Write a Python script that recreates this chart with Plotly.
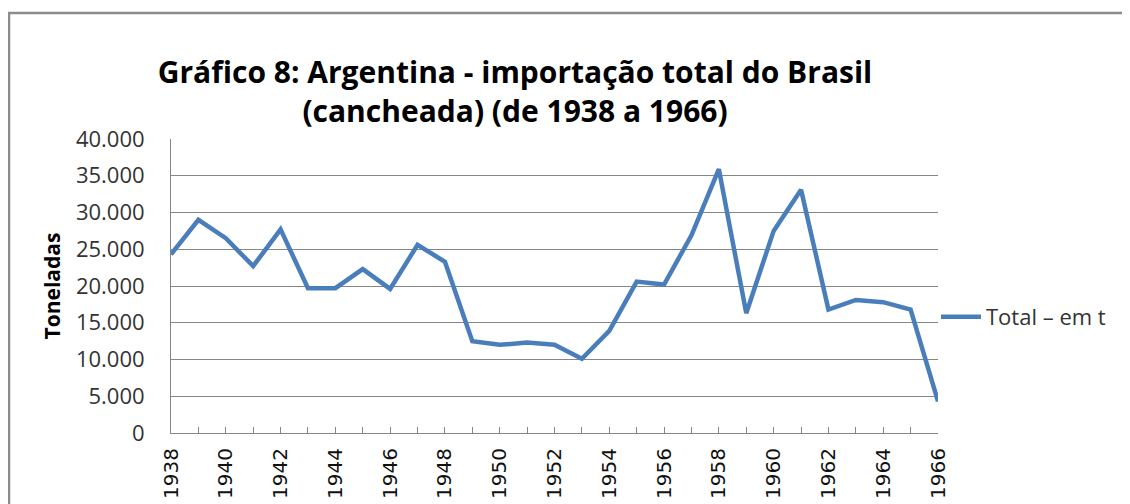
import plotly.graph_objects as go

years = list(range(1938, 1967))
total_t = [24300, 29000, 26500, 22700, 27700, 19700, 19700, 22300, 19600, 25600,
           23300, 12500, 12000, 12300, 12000, 10100, 13900, 20600, 20200, 26900,
           35900, 16300, 27500, 33100, 16800, 18100, 17800, 16800, 4300]
series_name = "Total – em t"
title_text = "Gráfico 8: Argentina - importação total do Brasil<br>(cancheada) (de 1938 a 1966)"
y_title = "Toneladas"

# the page body has an 8 px margin; figure coordinates are page coordinates - 8
OFF = 8
W, H = 1130 - OFF, 504 - OFF
left, right, top, bottom = 171 - OFF, 938 - OFF, 139 - OFF, 433 - OFF
ml, mr, mt, mb = left, W - right, top, H - bottom
pw, ph = right - left, bottom - top

fig = go.Figure()
fig.add_trace(go.Scatter(x=years, y=total_t, mode="lines", name=series_name,
                         line=dict(color="#4A7EBB", width=4.5)))

def px_x(p):
    return (p - OFF - ml) / pw

def px_y(p):
    return (H - mb - (p - OFF)) / ph

fig.add_shape(type="rect", xref="paper", yref="paper",
              x0=px_x(9), x1=px_x(1150), y0=px_y(530), y1=px_y(13),
              line=dict(color="#8C8C8C", width=2.5), fillcolor="rgba(0,0,0,0)", layer="below")

fig.update_layout(
    width=W, height=H,
    margin=dict(l=ml, r=mr, t=mt, b=mb, autoexpand=False),
    paper_bgcolor="white", plot_bgcolor="white",
    separators=",.",
    title=dict(text=title_text, x=(515 - OFF) / W, xanchor="center", xref="container",
               y=1 - 75 / H, yanchor="top", yref="container",
               font=dict(family="Open Sans", size=30, color="black", weight="bold")),
    showlegend=True,
    legend=dict(x=px_x(936), xanchor="left", y=px_y(317), yanchor="middle",
                font=dict(family="Open Sans", size=22, color="#333333"),
                bgcolor="rgba(0,0,0,0)", itemwidth=40),
    xaxis=dict(range=[1938, 1966], tick0=1938, dtick=2, tickangle=-90,
               ticks="inside", ticklen=6, tickcolor="#868686",
               showline=True, linecolor="#868686", linewidth=1,
               showgrid=False, zeroline=False,
               tickfont=dict(family="DejaVu Sans", size=20, color="#111111"),
               ticklabelstandoff=6,
               minor=dict(dtick=1, ticks="inside", ticklen=6, tickcolor="#868686")),
    yaxis=dict(range=[0, 40000], dtick=5000, tickformat=",d",
               showgrid=True, gridcolor="#868686", gridwidth=1,
               showline=True, linecolor="#868686", linewidth=1,
               zeroline=False, ticks="",
               tickfont=dict(family="Open Sans", size=22, color="#333333"),
               ticklabelstandoff=21,
               title=dict(text=y_title, standoff=9,
                          font=dict(family="Open Sans", size=21, color="black", weight="bold"))),
)

fig.write_html("out.html")
